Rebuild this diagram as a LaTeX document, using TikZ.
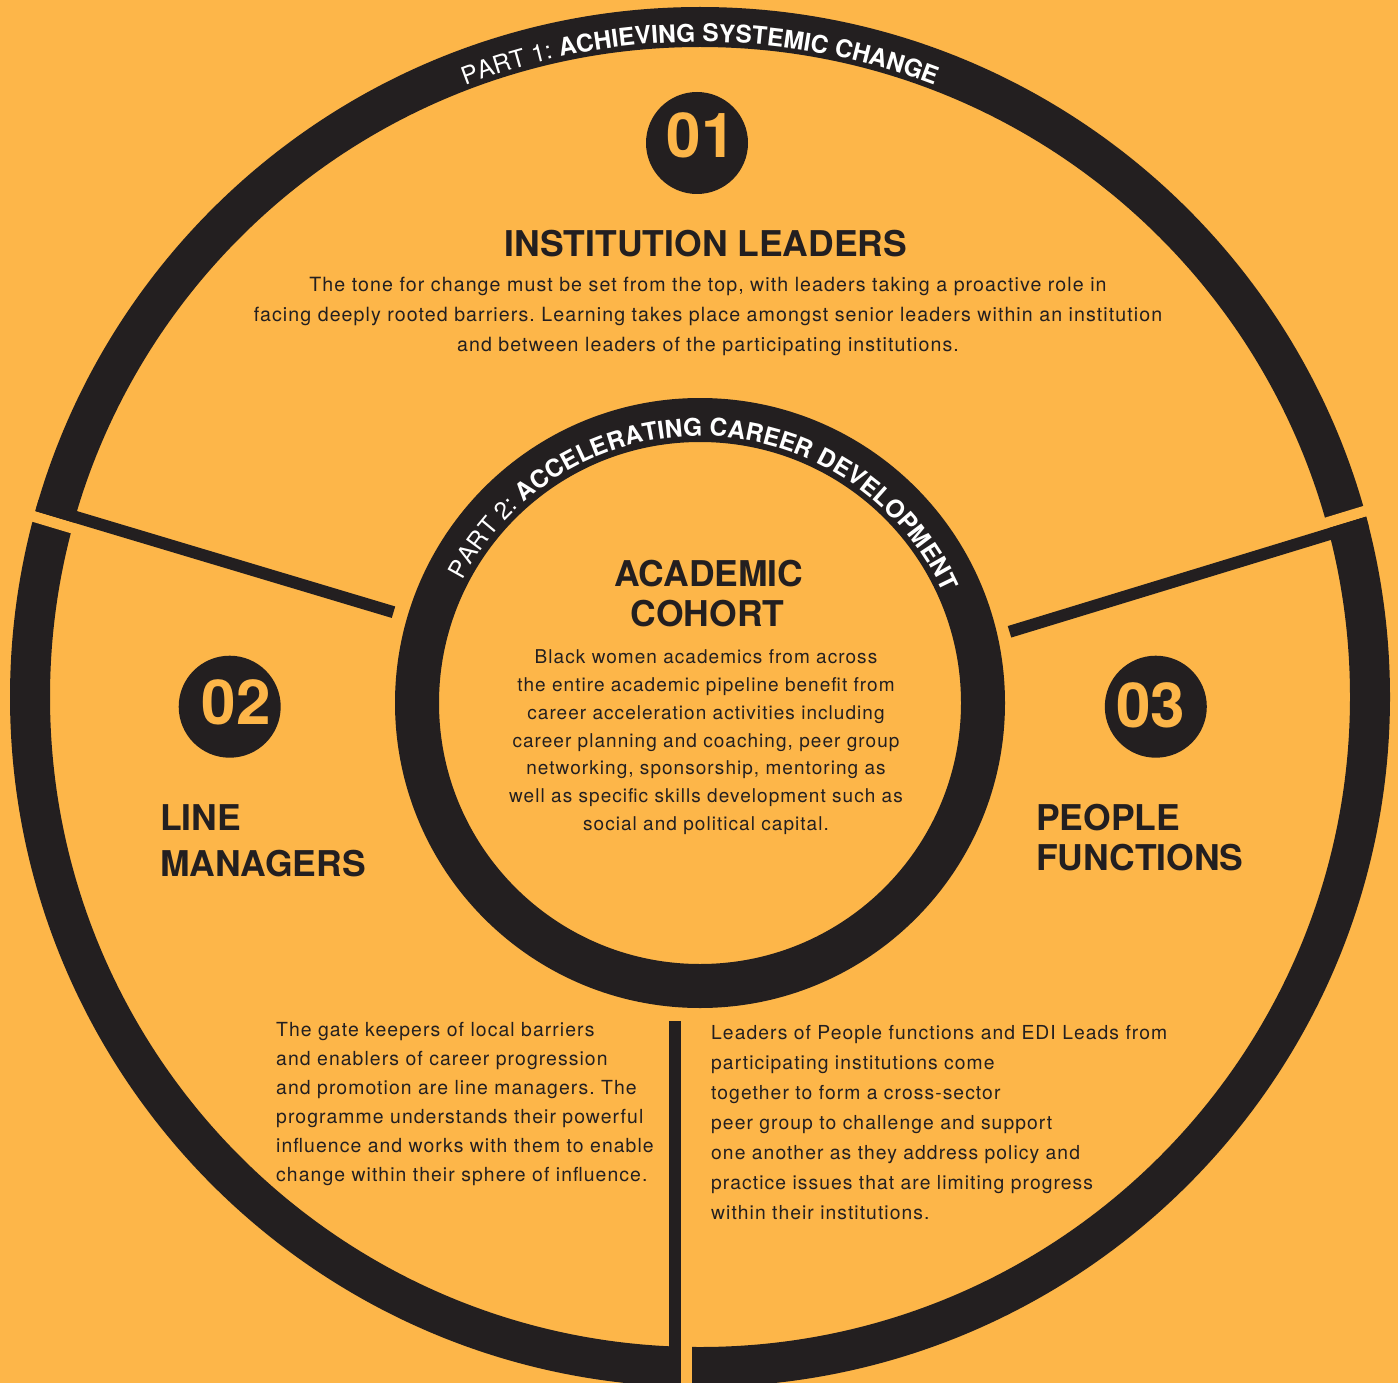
\documentclass[tikz,border=0pt]{standalone}
\usepackage{fontspec}
\setmainfont{TeX Gyre Heros}
\usetikzlibrary{decorations.text}
\definecolor{bg}{HTML}{FDB649}
\definecolor{ink}{HTML}{231F20}
\newcommand\arcreg{\fontsize{24.5}{24.5}\selectfont\mdseries\color{white}}
\newcommand\arcbold{\fontsize{24.5}{24.5}\selectfont\bfseries\color{white}}
\newcommand\bodytxt[2]{\frenchspacing\fontsize{#1}{#2}\selectfont\addfontfeatures{LetterSpace=5.5}}
\begin{document}
\begin{tikzpicture}[x=1pt,y=-1pt,
  numdisc/.style={circle,fill=ink,minimum size=102pt,inner sep=0pt},
  numtxt/.style={text=bg,font=\fontsize{62}{62}\selectfont\bfseries,anchor=base,inner sep=0pt},
  head/.style={text=ink,font=\fontsize{35.5}{40}\selectfont\bfseries,inner sep=0pt},
  para/.style={text=ink,inner sep=0pt},
  seg/.style={ink,line width=12pt},
  gap/.style={bg,line width=11pt}]
\useasboundingbox (0,0) rectangle (1398,1383);
\fill[bg] (0,0) rectangle (1398,1383);
% centres
\coordinate (O1) at (700,697);
\coordinate (O2) at (700,703);
% gaps and bars
\coordinate (gL1) at (-4.9,504.8);  \coordinate (gL2) at (100.5,536.4);
\coordinate (gR1) at (1401.7,500);  \coordinate (gR2) at (1296.5,532.1);
\coordinate (gB1) at (686.5,1320);  \coordinate (gB2) at (686.5,1400);
\coordinate (bL1) at (-1.6,493.8);  \coordinate (bL2) at (393.5,612.2);
\coordinate (bR1) at (1405,511);    \coordinate (bR2) at (1009.5,631.8);
\coordinate (bB1) at (675,1021);    \coordinate (bB2) at (675,1400);
% outer ring
\fill[ink,even odd rule] (O1) circle[radius=690] (O1) circle[radius=650];
\draw[gap] (gL1) -- (gL2);
\draw[gap] (gR1) -- (gR2);
\draw[gap] (gB1) -- (gB2);
\begin{scope}
  \clip (O1) circle[radius=690];
  \draw[seg] (bL1) -- (bL2);
  \draw[seg] (bR1) -- (bR2);
  \draw[seg] (bB1) -- (bB2);
\end{scope}
% inner ring
\fill[ink,even odd rule] (O2) circle[radius=305] (O2) circle[radius=261];
% curved titles
\path[decorate,decoration={text along path,text align=center,
  text={|\arcreg|PART 1: |\arcbold|ACHIEVING SYSTEMIC CHANGE}}]
  (O1) ++(195:655) arc[start angle=195,end angle=345,radius=655];
\path[decorate,decoration={text along path,text align=center,
  text={|\arcreg|PART 2: |\arcbold|ACCELERATING CAREER DEVELOPMENT}}]
  (O2) ++(191.5:267) arc[start angle=191.5,end angle=351.5,radius=267];
% number discs
\node[numdisc] (c1) at (697,143) {};
\node[numtxt] (t1) at (701,157.3) {01};
\node[numdisc] (c2) at (229.7,706.7) {};
\node[numtxt] (t2) at (236,724) {02};
\node[numdisc] (c3) at (1155.8,706.7) {};
\node[numtxt] (t3) at (1150.8,727.3) {03};
% headings
\node[head,anchor=base] (h1) at (706,256.7) {INSTITUTION LEADERS};
\node[head,anchor=base] (h2a) at (709,586.7) {ACADEMIC};
\node[head,anchor=base] (h2b) at (707.5,626.7) {COHORT};
\node[head,anchor=base west] (h3a) at (160,830) {LINE};
\node[head,anchor=base west] (h3b) at (160,876.7) {MANAGERS};
\node[head,anchor=base west] (h4a) at (1036,830) {PEOPLE};
\node[head,anchor=base west] (h4b) at (1036,870.7) {FUNCTIONS};
% paragraphs
\node[para,anchor=base] (p1) at (708,291) {\parbox[t]{1100pt}{\centering\bodytxt{19.6}{30}%
The tone for change must be set from the top, with leaders taking a proactive role in\\
facing deeply rooted barriers. Learning takes place amongst senior leaders within an institution\\
and between leaders of the participating institutions.}};
\node[para,anchor=base] (p2) at (706,663.3) {\parbox[t]{600pt}{\centering\bodytxt{19}{27.9}%
Black women academics from across\\
the entire academic pipeline benefit from\\
career acceleration activities including\\
career planning and coaching, peer group\\
networking, sponsorship, mentoring as\\
well as specific skills development such as\\
social and political capital.}};
\node[para,anchor=base west] (p3) at (276,1036.7) {\parbox[t]{450pt}{\raggedright\bodytxt{19.4}{29}%
The gate keepers of local barriers\\
and enablers of career progression\\
and promotion are line managers. The\\
programme understands their powerful\\
influence and works with them to enable\\
change within their sphere of influence.}};
\node[para,anchor=base west] (p4) at (711,1039.3) {\parbox[t]{550pt}{\raggedright\bodytxt{19.3}{30}%
Leaders of People functions and EDI Leads from\\
participating institutions come\\
together to form a cross-sector\\
peer group to challenge and support\\
one another as they address policy and\\
practice issues that are limiting progress\\
within their institutions.}};
\end{tikzpicture}
\end{document}
